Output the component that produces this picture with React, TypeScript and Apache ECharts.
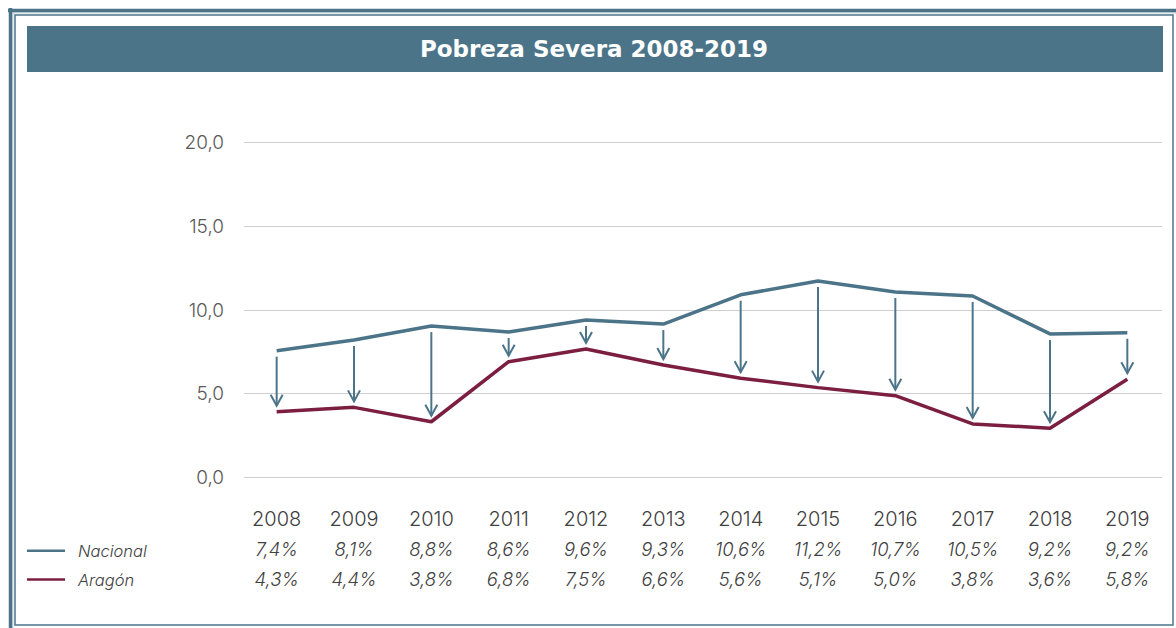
import React, { useEffect, useRef } from "react";
import * as echarts from "echarts";

const years = ["2008", "2009", "2010", "2011", "2012", "2013", "2014", "2015", "2016", "2017", "2018", "2019"];
const nacional = [7.57, 8.21, 9.04, 8.68, 9.4, 9.16, 10.91, 11.73, 11.08, 10.84, 8.57, 8.64];
const aragon = [3.92, 4.18, 3.32, 6.91, 7.67, 6.71, 5.92, 5.36, 4.88, 3.19, 2.93, 5.86];
const nacionalLabels = ["7,4%", "8,1%", "8,8%", "8,6%", "9,6%", "9,3%", "10,6%", "11,2%", "10,7%", "10,5%", "9,2%", "9,2%"];
const aragonLabels = ["4,3%", "4,4%", "3,8%", "6,8%", "7,5%", "6,6%", "5,6%", "5,1%", "5,0%", "3,8%", "3,6%", "5,8%"];
const seriesNames = ["Nacional", "Aragón"];
const title = "Pobreza Severa 2008-2019";

const BLUE = "#4B7489";
const MAROON = "#7B1E40";
const FONT = "Inter, Lato, sans-serif";

export default function App() {
  const ref = useRef<HTMLDivElement>(null);
  useEffect(() => {
    if (!ref.current) return;
    const chart = echarts.init(ref.current, null, { renderer: "svg" });
    const gridTop = 142.7;
    const gridBottom = 628 - 477.3;
    const option: any = {
      animation: false,
      backgroundColor: "#ffffff",
      grid: [
        { left: 244, right: 14, top: gridTop, bottom: gridBottom },
        { left: 238, right: 10, top: gridTop, bottom: gridBottom },
      ],
      xAxis: [
        { gridIndex: 0, type: "category", data: years, show: false },
        {
          gridIndex: 1,
          type: "category",
          data: years,
          axisLine: { show: false },
          axisTick: { show: false },
          splitLine: { show: false },
          axisLabel: {
            interval: 0,
            margin: 27,
            formatter: (v: string, i: number) => `{y|${v}}\n{n|${nacionalLabels[i]}}\n{a|${aragonLabels[i]}}`,
            rich: {
              y: { fontSize: 20, lineHeight: 30, color: "#404040", fontFamily: FONT, fontWeight: 300 },
              n: { fontSize: 18.5, lineHeight: 30, color: "#404040", fontFamily: FONT, fontStyle: "italic", fontWeight: 300 },
              a: { fontSize: 18.5, lineHeight: 30, color: "#404040", fontFamily: FONT, fontStyle: "italic", fontWeight: 300 },
            },
          },
        },
      ],
      yAxis: [
        {
          gridIndex: 0,
          type: "value",
          min: 0,
          max: 20,
          interval: 5,
          axisLine: { show: false },
          axisTick: { show: false },
          splitLine: { lineStyle: { color: "#cfcfcf", width: 1.2 } },
          axisLabel: {
            margin: 20,
            fontSize: 19,
            color: "#595959",
            fontFamily: FONT,
            fontWeight: 300,
            formatter: (v: number) => v.toFixed(1).replace(".", ","),
          },
        },
        { gridIndex: 1, type: "value", min: 0, max: 20, interval: 5, show: false },
      ],
      series: [
        {
          name: seriesNames[0],
          type: "line",
          xAxisIndex: 1,
          yAxisIndex: 1,
          data: nacional,
          symbol: "none",
          lineStyle: { color: BLUE, width: 3.5 },
          z: 3,
        },
        {
          name: seriesNames[1],
          type: "line",
          xAxisIndex: 1,
          yAxisIndex: 1,
          data: aragon,
          symbol: "none",
          lineStyle: { color: MAROON, width: 3.5 },
          z: 3,
        },
        {
          type: "custom",
          xAxisIndex: 1,
          yAxisIndex: 1,
          data: nacional.map((v, i) => [i, v, aragon[i]]),
          z: 4,
          renderItem: (params: any, api: any) => {
            const i = api.value(0);
            const p1 = api.coord([i, api.value(1)]);
            const p2 = api.coord([i, api.value(2)]);
            const x = p1[0];
            const y1 = p1[1] + 6;
            const y2 = p2[1] - 6;
            const style = { stroke: BLUE, lineWidth: 2, fill: "none" };
            return {
              type: "group",
              children: [
                { type: "line", shape: { x1: x, y1, x2: x, y2 }, style },
                { type: "polyline", shape: { points: [[x - 6, y2 - 11], [x, y2], [x + 6, y2 - 11]] }, style },
              ],
            };
          },
        },
      ],
      graphic: [
        { type: "line", shape: { x1: 8, y1: 10.5, x2: 1176, y2: 10.5 }, style: { stroke: BLUE, lineWidth: 3.5 } },
        { type: "line", shape: { x1: 10.5, y1: 8, x2: 10.5, y2: 628 }, style: { stroke: BLUE, lineWidth: 3.5 } },
        { type: "line", shape: { x1: 12, y1: 12.8, x2: 1176, y2: 12.8 }, style: { stroke: "#a9bdc8", lineWidth: 1 } },
        { type: "line", shape: { x1: 12.8, y1: 12, x2: 12.8, y2: 628 }, style: { stroke: "#a9bdc8", lineWidth: 1 } },
        { type: "rect", shape: { x: 15, y: 15, width: 1158, height: 610 }, style: { stroke: BLUE, lineWidth: 1.5, fill: "none" } },
        { type: "rect", shape: { x: 27, y: 26, width: 1136, height: 46 }, style: { fill: BLUE } },
        {
          type: "text",
          x: 594,
          y: 49,
          style: {
            text: title,
            fill: "#ffffff",
            font: "bold 23px 'DejaVu Sans', sans-serif",
            align: "center",
            verticalAlign: "middle",
          },
        },
        { type: "line", shape: { x1: 27, y1: 550.7, x2: 65, y2: 550.7 }, style: { stroke: BLUE, lineWidth: 2.5 } },
        { type: "line", shape: { x1: 27, y1: 579.5, x2: 65, y2: 579.5 }, style: { stroke: MAROON, lineWidth: 2.5 } },
        {
          type: "text",
          x: 78,
          y: 550.7,
          style: { text: seriesNames[0], fill: "#404040", font: `italic 300 16.5px ${FONT}`, verticalAlign: "middle" },
        },
        {
          type: "text",
          x: 78,
          y: 579.5,
          style: { text: seriesNames[1], fill: "#404040", font: `italic 300 16.5px ${FONT}`, verticalAlign: "middle" },
        },
      ],
    };
    chart.setOption(option);
    return () => chart.dispose();
  }, []);
  return <div ref={ref} style={{ position: "fixed", left: 0, top: 0, width: 1176, height: 628 }} />;
}
